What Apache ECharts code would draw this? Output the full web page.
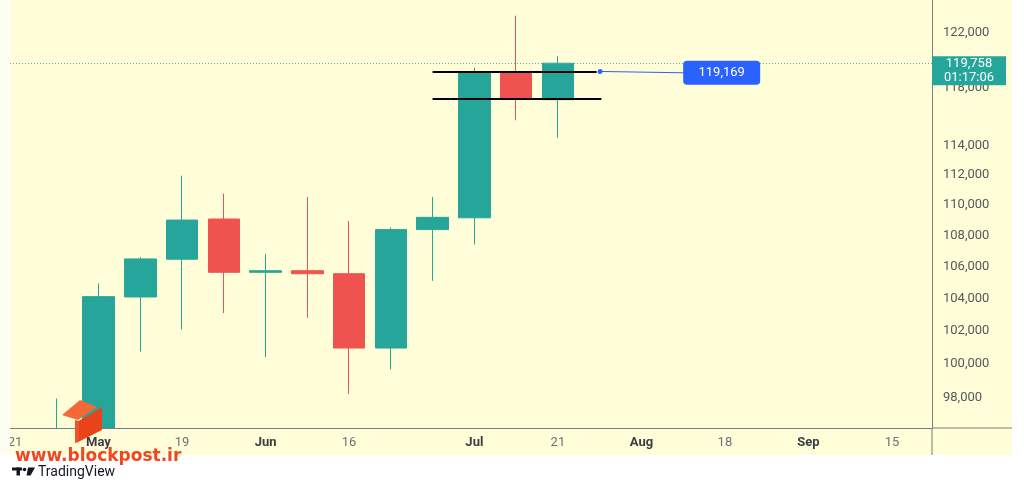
<!DOCTYPE html>
<html>
<head>
<meta charset="utf-8">
<script src="https://cdn.jsdelivr.net/npm/echarts@6/dist/echarts.min.js"></script>
<style>
  html, body { margin: 0; padding: 0; background: #fff; }
  #chart { width: 1024px; height: 480px; }
</style>
</head>
<body>
<div id="chart"></div>
<script>
// BTC/USD weekly candles (week start, Monday)
var weeks = ['2025-04-21', '2025-04-28', '2025-05-05', '2025-05-12', '2025-05-19', '2025-05-26',
             '2025-06-02', '2025-06-09', '2025-06-16', '2025-06-23', '2025-06-30', '2025-07-07',
             '2025-07-14', '2025-07-21'];
var open  = [87500, 93750, 94300, 104100, 106480, 109080, 105650, 105750, 105560, 100960, 108390, 109160, 119110, 117170];
var close = [93750, 94300, 104120, 106500, 109010, 105650, 105750, 105560, 100960, 108390, 109190, 119110, 117240, 119758];
var low   = [86400, 92800, 93400, 100750, 102100, 103100, 100400, 102810, 98210, 99680, 105110, 107430, 115730, 114530];
var high  = [95750, 97950, 104950, 106620, 111950, 110750, 106830, 110530, 108950, 108530, 110530, 119440, 123220, 120260];

var yTicks = [98000, 100000, 102000, 104000, 106000, 108000, 110000, 112000, 114000, 118000, 122000];
var xTickDates  = ['2025-04-21', '2025-05-05', '2025-05-19', '2025-06-02', '2025-06-16', '2025-07-07',
                   '2025-07-21', '2025-08-04', '2025-08-18', '2025-09-01', '2025-09-15'];
var xTickLabels = ['21', 'May', '19', 'Jun', '16', 'Jul', '21', 'Aug', '18', 'Sep', '15'];

var lastPrice = 119758;
var countdown = '01:17:06';
var levelTop = 119169;
var levelBottom = 117265;

var UP = '#26a69a', DOWN = '#ef5350', BLUE = '#2962ff', PANEL = '#fffed8';

function ts(s, hours) {
  var p = s.split('-');
  return Date.UTC(+p[0], p[1] - 1, +p[2], hours || 0);
}
function commas(v) {
  return String(Math.round(v)).replace(/\B(?=(\d{3})+(?!\d))/g, ',');
}

var candles = weeks.map(function (w, i) {
  return [ts(w), open[i], close[i], low[i], high[i]];
});
var xTickTs = xTickDates.map(function (d) { return ts(d); });

var xMin = ts('2025-04-20', 4);
var xMax = ts('2025-09-21', 17);

var chart = echarts.init(document.getElementById('chart'));

var option = {
  backgroundColor: '#fff',
  animation: false,
  textStyle: { fontFamily: 'Roboto, sans-serif' },
  grid: { left: 10, right: 92, top: 0, bottom: 52 },
  xAxis: {
    type: 'value',
    z: 10,
    min: xMin,
    max: xMax,
    axisLine: { lineStyle: { color: '#7b7d85', width: 1 } },
    axisTick: { show: false },
    splitLine: { show: false },
    axisLabel: {
      customValues: xTickTs,
      margin: 8,
      formatter: function (v) {
        var best = 0;
        for (var i = 1; i < xTickTs.length; i++) {
          if (Math.abs(xTickTs[i] - v) < Math.abs(xTickTs[best] - v)) best = i;
        }
        var t = xTickLabels[best];
        return /^\d/.test(t) ? '{d|' + t + '}' : '{m|' + t + '}';
      },
      rich: {
        d: { color: '#6f717a', fontSize: 13, fontFamily: 'Roboto' },
        m: { color: '#3a3d46', fontSize: 13, fontWeight: 'bold', fontFamily: 'Roboto' }
      }
    }
  },
  yAxis: {
    type: 'log',
    position: 'right',
    min: 96234,
    max: 124386,
    axisLine: { show: true, lineStyle: { color: '#7b7d85', width: 1 } },
    axisTick: { show: false },
    splitLine: { show: false },
    axisLabel: {
      customValues: yTicks,
      margin: 11,
      color: '#55575f',
      fontSize: 13,
      formatter: function (v) { return commas(Math.round(v / 1000) * 1000); }
    }
  },
  series: [{
    type: 'candlestick',
    data: candles,
    barWidth: 32,
    clip: true,
    itemStyle: {
      color: UP, color0: DOWN,
      borderColor: UP, borderColor0: DOWN,
      borderWidth: 1
    },
    markLine: {
      silent: true,
      symbol: 'none',
      label: { show: false },
      data: [
        // current price, dotted
        [{ coord: [xMin, lastPrice], lineStyle: { color: '#4db6ac', type: [1, 2], width: 1, opacity: 1 } },
         { coord: [xMax, lastPrice] }],
        // drawn range lines
        [{ coord: [ts('2025-06-30'), levelTop], lineStyle: { color: '#000', width: 2, type: 'solid' } },
         { coord: [ts('2025-07-27', 12), levelTop] }],
        [{ coord: [ts('2025-06-30'), levelBottom], lineStyle: { color: '#000', width: 2, type: 'solid' } },
         { coord: [ts('2025-07-28', 7), levelBottom] }],
        // callout connector
        [{ coord: [ts('2025-07-28', 2), levelTop], symbol: 'circle', symbolSize: 5,
           lineStyle: { color: BLUE, width: 1, type: 'solid' }, itemStyle: { color: BLUE } },
         { coord: [ts('2025-08-11'), 119075], symbol: 'none' }]
      ]
    },
    markPoint: {
      silent: true,
      data: [
        {
          coord: [xMax, lastPrice],
          symbol: 'rect',
          symbolSize: [74, 29],
          symbolOffset: ['50%', 7.5],
          itemStyle: { color: UP },
          label: {
            show: true, position: 'inside',
            formatter: commas(lastPrice) + '\n' + countdown,
            color: '#fff', fontSize: 13, lineHeight: 14, align: 'center'
          }
        },
        {
          coord: [ts('2025-08-11'), 119075],
          symbol: 'path://M4,0 H73 A4,4 0 0 1 77,4 V20 A4,4 0 0 1 73,24 H4 A4,4 0 0 1 0,20 V4 A4,4 0 0 1 4,0 Z',
          symbolSize: [77, 24],
          symbolKeepAspect: false,
          symbolOffset: ['50%', 0],
          itemStyle: { color: BLUE },
          label: {
            show: true, position: 'inside',
            formatter: commas(levelTop),
            color: '#fff', fontSize: 13
          }
        }
      ]
    }
  }],
  graphic: [
    { type: 'rect', z: -10, silent: true, shape: { x: 10, y: 0, width: 1002, height: 455 }, style: { fill: PANEL } },
    // hide the parts of candles that run past the bottom of the plot
    { type: 'rect', z: 5, silent: true, shape: { x: 10, y: 428.5, width: 922, height: 26.5 }, style: { fill: PANEL } },
    { type: 'rect', z: 5, silent: true, shape: { x: 0, y: 455, width: 1024, height: 25 }, style: { fill: '#fff' } },
    { type: 'rect', z: 12, silent: true, shape: { x: 0, y: 0, width: 10, height: 455 }, style: { fill: '#fdfdf2' } },
    { type: 'line', z: 11, silent: true, shape: { x1: 932, y1: 428, x2: 1012, y2: 428 }, style: { stroke: '#7b7d85', lineWidth: 1 } },
    { type: 'line', z: 11, silent: true, shape: { x1: 932, y1: 428, x2: 932, y2: 455 }, style: { stroke: '#7b7d85', lineWidth: 1 } },
    // blockpost watermark
    { type: 'polygon', z: 100, silent: true, shape: { points: [[62, 415], [80, 400], [97, 407], [78, 420]] }, style: { fill: '#f4683a' } },
    { type: 'polygon', z: 100, silent: true, shape: { points: [[77, 422], [102, 407], [102, 430], [78, 442]] }, style: { fill: '#e8431b' } },
    { type: 'polygon', z: 100, silent: true, shape: { points: [[75, 420], [79, 421], [79, 442], [75, 443]] }, style: { fill: '#f05426' } },
    { type: 'text', z: 100, silent: true, x: 15, y: 457,
      style: { text: 'www.blockpost.ir', fill: '#f2461c', font: 'bold 17px "DejaVu Sans", sans-serif', verticalAlign: 'middle' } },
    // TradingView mark
    { type: 'rect', z: 100, silent: true, shape: { x: 12, y: 467.5, width: 10, height: 3 }, style: { fill: '#131722' } },
    { type: 'rect', z: 100, silent: true, shape: { x: 16.5, y: 467.5, width: 3.5, height: 8 }, style: { fill: '#131722' } },
    { type: 'circle', z: 100, silent: true, shape: { cx: 24.5, cy: 469.5, r: 1.8 }, style: { fill: '#131722' } },
    { type: 'polygon', z: 100, silent: true, shape: { points: [[28, 467.5], [35, 467.5], [30.5, 475.5], [26.5, 475.5]] }, style: { fill: '#131722' } },
    { type: 'text', z: 100, silent: true, x: 38, y: 472,
      style: { text: 'TradingView', fill: '#131722', font: '14px Roboto, sans-serif', verticalAlign: 'middle' } }
  ]
};

chart.setOption(option);
</script>
</body>
</html>
